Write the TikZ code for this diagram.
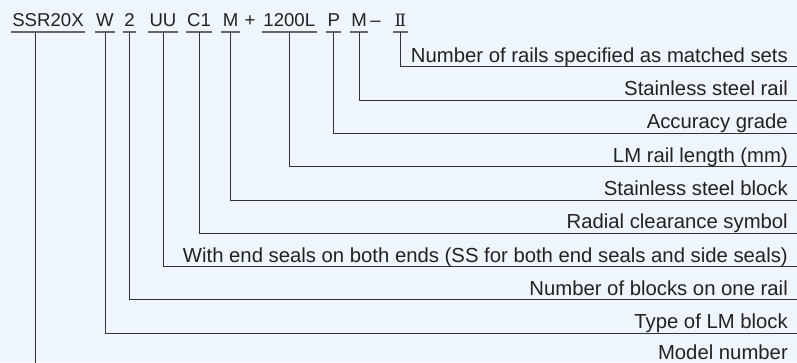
\documentclass[tikz,border=0pt]{standalone}
\usepackage{fontspec}
\setmainfont{Liberation Sans}
\newfontfamily\numfont{DejaVu Serif}
\definecolor{bg}{RGB}{238,245,252}
\definecolor{ink}{RGB}{34,34,34}
\definecolor{wire}{RGB}{51,51,51}
\tikzset{ part/.style = { anchor      = base
                        , inner xsep  = 1.2pt
                        , inner ysep  = 0pt
                        , text depth  = 5pt
                        , text        = ink
                        , font        = \fontsize{18.6}{18.6}\selectfont
                        , append after command = {
                            (\tikzlastnode.south west) edge[bar] (\tikzlastnode.south east)}
                        },
          sign/.style = { anchor      = base
                        , inner sep   = 0pt
                        , text        = ink
                        , font        = \fontsize{18.6}{18.6}\selectfont
                        },
          desc/.style = { anchor      = base east
                        , inner sep   = 0pt
                        , text        = ink
                        , font        = \fontsize{20.3}{20.3}\selectfont
                        },
          bar/.style  = { draw = wire!75
                        , line width = 1.2pt
                        },
          lead/.style = { draw = wire
                        , line width = 0.9pt
                        }
        }

\begin{document}
\begin{tikzpicture}[x=1pt, y=-1pt]
    \useasboundingbox[fill=bg] (0,0) rectangle (797,362);
    \clip (0,0) rectangle (797,362);
    % code parts
    \node[part] (model) at (48,26.7)    {SSR20X};
    \node[part] (type)  at (105,26.7)   {W};
    \node[part] (count) at (129.5,26.7) {2};
    \node[part] (seal)  at (163,26.7)   {UU};
    \node[part] (clear) at (199,26.7)   {C1};
    \node[part] (blk)   at (230.5,26.7) {M};
    \node[sign] (plus)  at (250,26.7)   {+};
    \node[part] (len)   at (289.3,26.7) {1200L};
    \node[part] (grade) at (333.8,26.7) {P};
    \node[part] (rail)  at (359,26.7)   {M};
    \node[sign] (dash)  at (375.5,26.7) {–};
    \node[part] (sets)  at (400.5,26.7) {\numfont\fontsize{17}{17}\selectfont Ⅱ};
    % right ends of the leaders
    \coordinate (e1)  at (797,66.7);
    \coordinate (e2)  at (797,100);
    \coordinate (e3)  at (797,133.3);
    \coordinate (e4)  at (797,166.7);
    \coordinate (e5)  at (797,200);
    \coordinate (e6)  at (797,233.3);
    \coordinate (e7)  at (797,266.5);
    \coordinate (e8)  at (797,299.7);
    \coordinate (e9)  at (797,333);
    \coordinate (e10) at (797,363.5);
    % leaders
    \draw[lead] (sets.south)  |- (e1);
    \draw[lead] (rail.south)  |- (e2);
    \draw[lead] (grade.south) |- (e3);
    \draw[lead] (len.south)   |- (e4);
    \draw[lead] (blk.south)   |- (e5);
    \draw[lead] (clear.south) |- (e6);
    \draw[lead] (seal.south)  |- (e7);
    \draw[lead] (count.south) |- (e8);
    \draw[lead] (type.south)  |- (e9);
    \draw[lead] ([xshift=24.7pt]model.south west) |- (e10);
    % descriptions
    \node[desc] (d1)  at ([xshift=-9pt,yshift=4.5pt]e1)  {Number of rails specified as matched sets};
    \node[desc] (d2)  at ([xshift=-9pt,yshift=4.5pt]e2)  {Stainless steel rail};
    \node[desc] (d3)  at ([xshift=-9pt,yshift=4.5pt]e3)  {Accuracy grade};
    \node[desc] (d4)  at ([xshift=-9pt,yshift=4.5pt]e4)  {LM rail length (mm)};
    \node[desc] (d5)  at ([xshift=-9pt,yshift=4.5pt]e5)  {Stainless steel block};
    \node[desc] (d6)  at ([xshift=-9pt,yshift=4.5pt]e6)  {Radial clearance symbol};
    \node[desc] (d7)  at ([xshift=-9pt,yshift=4.5pt]e7)  {With end seals on both ends (SS for both end seals and side seals)};
    \node[desc] (d8)  at ([xshift=-9pt,yshift=4.5pt]e8)  {Number of blocks on one rail};
    \node[desc] (d9)  at ([xshift=-9pt,yshift=4.5pt]e9)  {Type of LM block};
    \node[desc] (d10) at ([xshift=-9pt,yshift=4.5pt]e10) {Model number};
\end{tikzpicture}
\end{document}
